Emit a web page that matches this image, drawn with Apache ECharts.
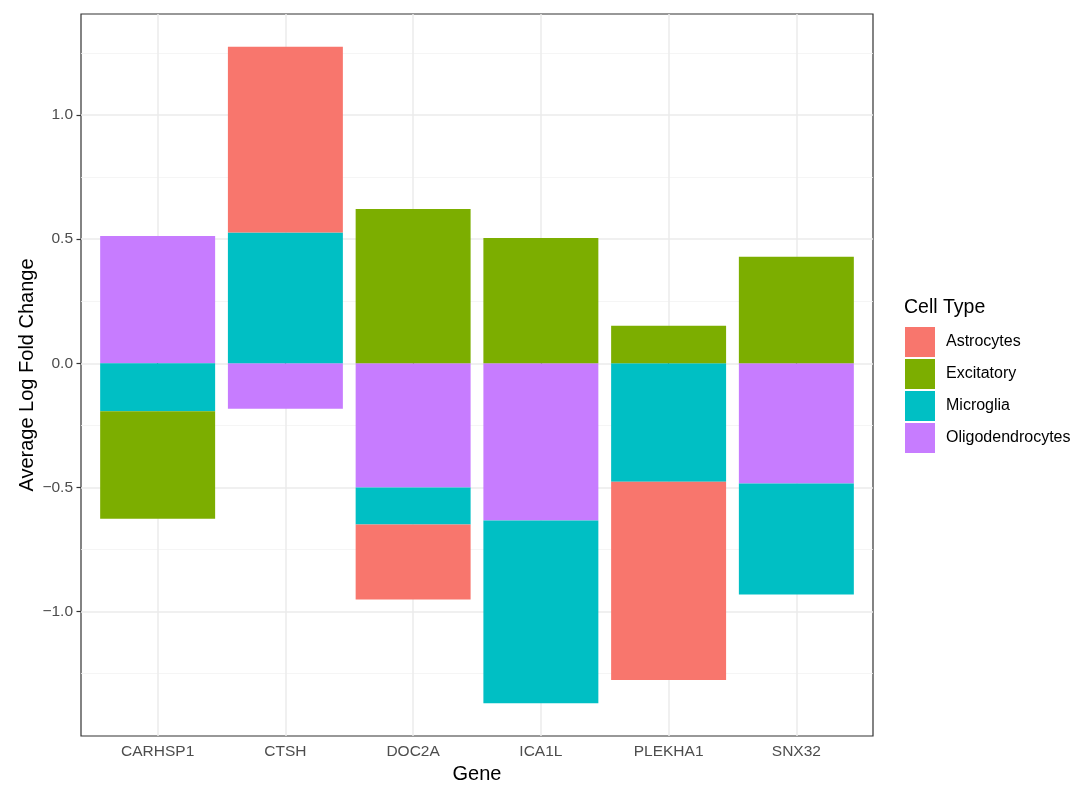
<!DOCTYPE html>
<html>
<head>
<meta charset="utf-8">
<script src="https://cdn.jsdelivr.net/npm/echarts@6/dist/echarts.min.js"></script>
<style>
html,body{margin:0;padding:0;background:#fff;}
#chart{width:1080px;height:790px;}
</style>
</head>
<body>
<div id="chart"></div>
<script>
// ---- data ----
const genes = ['CARHSP1', 'CTSH', 'DOC2A', 'ICA1L', 'PLEKHA1', 'SNX32'];
const cellTypes = ['Astrocytes', 'Excitatory', 'Microglia', 'Oligodendrocytes'];
const astrocytes       = [null, 0.748, -0.302, null, -0.798, null];
const excitatory       = [-0.433, null, 0.622, 0.505, 0.151, 0.429];
const microglia        = [-0.193, 0.527, -0.149, -0.736, -0.477, -0.447];
const oligodendrocytes = [0.513, -0.183, -0.500, -0.633, null, -0.484];
const yMajorTicks = [-1.0, -0.5, 0.0, 0.5, 1.0];
const yMinorTicks = [-1.25, -0.75, -0.25, 0.25, 0.75, 1.25];
const yMin = -1.501, yMax = 1.407;

const colors = {
  Astrocytes: '#F8766D',
  Excitatory: '#7CAE00',
  Microglia: '#00BFC4',
  Oligodendrocytes: '#C77CFF'
};
const seriesData = {
  Astrocytes: astrocytes,
  Excitatory: excitatory,
  Microglia: microglia,
  Oligodendrocytes: oligodendrocytes
};
// stacking order (ggplot: last level nearest zero)
const stackOrder = ['Oligodendrocytes', 'Microglia', 'Excitatory', 'Astrocytes'];

const FONT = '"Liberation Sans", Arial, Helvetica, sans-serif';
const plotLeft = 81, plotRight = 873, plotTop = 14, plotBottom = 736;
const plotW = plotRight - plotLeft;
const unit = plotW / (genes.length + 0.2);
const innerLeft = plotLeft + 0.1 * unit;
const innerW = genes.length * unit;

const fmt = v => {
  const s = Number(v).toFixed(1);
  return s.replace('-', '\u2212');
};

const chart = echarts.init(document.getElementById('chart'), null, {renderer: 'canvas'});
const option = {
  backgroundColor: '#ffffff',
  animation: false,
  textStyle: {fontFamily: FONT},
  grid: [
    {left: plotLeft, top: plotTop, width: plotW, height: plotBottom - plotTop,
     show: true, borderColor: '#333333', borderWidth: 1.2, backgroundColor: 'transparent'},
    {left: innerLeft, top: plotTop, width: innerW, height: plotBottom - plotTop}
  ],
  xAxis: [
    {
      type: 'value', gridIndex: 0, min: 0.4, max: 6.6,
      name: 'Gene', nameLocation: 'middle', nameGap: 27,
      nameTextStyle: {fontSize: 20, color: '#000', fontFamily: FONT},
      axisLine: {show: false},
      axisTick: {show: true, length: 4.5, lineStyle: {color: '#333', width: 1.2},
                 customValues: [1, 2, 3, 4, 5, 6]},
      axisLabel: {customValues: [1, 2, 3, 4, 5, 6], margin: 8,
                  formatter: v => genes[Math.round(v) - 1] || '',
                  fontSize: 15.5, color: '#4d4d4d', fontFamily: FONT},
      splitLine: {show: true, lineStyle: {color: '#ebebeb', width: 1.5}}
    },
    {
      type: 'category', gridIndex: 1, data: genes, show: false,
      axisLine: {show: false}, axisTick: {show: false}, axisLabel: {show: false},
      splitLine: {show: false}
    }
  ],
  yAxis: [
    {
      type: 'value', gridIndex: 0, min: yMin, max: yMax,
      name: 'Average Log Fold Change', nameLocation: 'middle', nameGap: 44,
      nameMoveOverlap: false,
      nameTextStyle: {fontSize: 20, color: '#000', fontFamily: FONT},
      axisLine: {show: false},
      axisTick: {show: true, length: 4.5, lineStyle: {color: '#333', width: 1.2},
                 customValues: yMajorTicks},
      axisLabel: {customValues: yMajorTicks, margin: 8, formatter: fmt,
                  fontSize: 15.5, color: '#4d4d4d', fontFamily: FONT},
      splitLine: {show: true, lineStyle: {color: '#ebebeb', width: 1.5}}
    },
    {
      type: 'value', gridIndex: 0, min: yMin, max: yMax,
      axisLine: {show: false},
      axisTick: {show: false, customValues: yMinorTicks},
      axisLabel: {show: false, customValues: yMinorTicks},
      splitLine: {show: true, lineStyle: {color: '#f2f2f2', width: 0.8}}
    },
    {
      type: 'value', gridIndex: 1, min: yMin, max: yMax, show: false,
      axisLine: {show: false}, axisTick: {show: false}, axisLabel: {show: false},
      splitLine: {show: false}
    }
  ],
  legend: {
    orient: 'vertical',
    left: 905, top: 327, padding: 0,
    itemWidth: 30, itemHeight: 30, itemGap: 2,
    icon: 'rect',
    data: cellTypes,
    textStyle: {fontSize: 16, color: '#000', fontFamily: FONT, padding: [0, 0, 0, 6]}
  },
  graphic: [
    {type: 'text', left: 904, top: 298,
     style: {text: 'Cell Type', fontSize: 19.5, fill: '#000', fontFamily: FONT}}
  ],
  series: stackOrder.map(name => ({
    name: name,
    type: 'bar',
    xAxisIndex: 1,
    yAxisIndex: 2,
    stack: 'total',
    barWidth: '90%',
    itemStyle: {color: colors[name]},
    emphasis: {disabled: true},
    data: seriesData[name].map(v => (v === null ? '-' : v))
  }))
};
chart.setOption(option);
</script>
</body>
</html>
